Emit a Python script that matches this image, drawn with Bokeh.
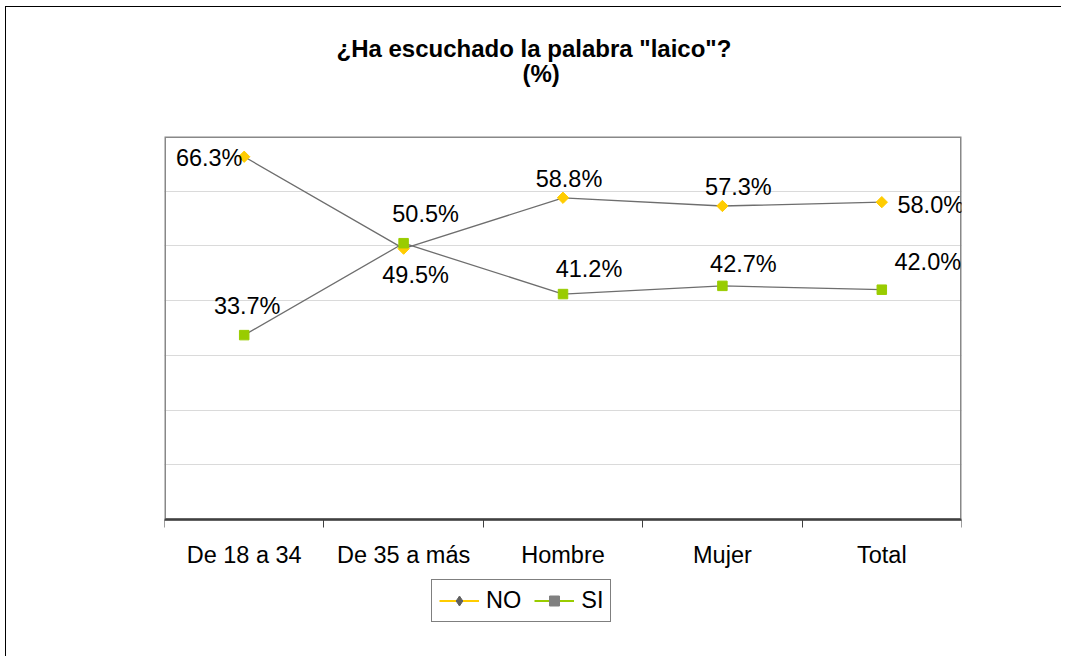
import numpy as np
from bokeh.plotting import figure
from bokeh.models import (ColumnDataSource, Range1d, FixedTicker, Legend, LegendItem, Title,
                          BoxAnnotation)
from bokeh.core.properties import value
from bokeh.embed import file_html
from bokeh.resources import INLINE

# ---- data ----
categories = ["De 18 a 34", "De 35 a más", "Hombre", "Mujer", "Total"]
no_values = [66.3, 49.5, 58.8, 57.3, 58.0]
si_values = [33.7, 50.5, 41.2, 42.7, 42.0]
title_lines = ['¿Ha escuchado la palabra "laico"?', "(%)"]
y_max = 70
grid_ticks = [10, 20, 30, 40, 50, 60]

# label placement (screen px offsets from each point)
no_dx = [-35, 12, 6, 16, 49]
no_dy = [1, 26, -19, -19, 3]
si_dx = [3, 22, 26, 21, 46]
si_dy = [-29, -29, -25, -22, -28]

FONT = "Liberation Sans"
YELLOW = "#FFCC00"
GREEN = "#99CC00"
LINE = "#6E6E6E"

xs = list(range(len(categories)))

# layout geometry (pixels): plot box 383 px tall for 0..70, frame extends 121 px lower
PLOT_H = 383
EXTRA = 121
y_start = -y_max * EXTRA / PLOT_H

p = figure(width=1056, height=650, output_backend="svg", toolbar_location=None,
           x_range=Range1d(-0.5, len(categories) - 0.5), y_range=Range1d(y_start, y_max),
           min_border_left=158, min_border_right=101, min_border_top=129,
           min_border_bottom=17)
p.styles = {"margin-left": "5px", "margin-top": "6px",
            "border-top": "1px solid #000000", "border-left": "1px solid #000000"}
p.background_fill_color = "white"
p.border_fill_color = "white"
p.outline_line_color = None

# plot-area box (edges sit on the frame edge, so half of the stroke is visible)
p.add_layout(BoxAnnotation(left=-0.5, right=len(categories) - 0.5, bottom=0, top=y_max,
                           fill_alpha=0, line_color="#888888", line_alpha=1, line_width=3,
                           level="underlay"))

# grid
p.xgrid.visible = False
p.ygrid.ticker = FixedTicker(ticks=grid_ticks)
p.ygrid.grid_line_color = "#B4B4B4"
p.ygrid.grid_line_dash = "1 1"
p.ygrid.grid_line_width = 1

p.yaxis.visible = False

ax = p.xaxis[0]
ax.fixed_location = 0
ax.ticker = FixedTicker(ticks=xs, minor_ticks=[i - 0.5 for i in range(len(categories) + 1)])
ax.major_label_overrides = {i: c for i, c in enumerate(categories)}
ax.major_tick_line_color = None
ax.major_tick_out = 0
ax.major_tick_in = 0
ax.minor_tick_out = 8
ax.minor_tick_in = 0
ax.minor_tick_line_color = "#404040"
ax.axis_line_color = "#404040"
ax.axis_line_width = 2
ax.major_label_text_font = FONT
ax.major_label_text_font_size = "23.5px"
ax.major_label_text_color = "#000000"
ax.major_label_standoff = 14

src_no = ColumnDataSource(dict(x=xs, y=no_values, t=[f"{v:.1f}%" for v in no_values], dx=no_dx, dy=no_dy))
src_si = ColumnDataSource(dict(x=xs, y=si_values, t=[f"{v:.1f}%" for v in si_values], dx=si_dx, dy=si_dy))

p.line("x", "y", source=src_no, line_color=LINE, line_width=1.3)
p.scatter("x", "y", source=src_no, marker="square", angle=np.pi / 4, size=8,
          fill_color=YELLOW, line_color=YELLOW)
p.line("x", "y", source=src_si, line_color=LINE, line_width=1.3)
p.scatter("x", "y", source=src_si, marker="square", size=9.5,
          fill_color=GREEN, line_color=GREEN)

for src in (src_no, src_si):
    p.text("x", "y", text="t", source=src, x_offset="dx", y_offset="dy",
           text_align="center", text_baseline="middle",
           text_font=value(FONT), text_font_size="23.5px", text_color="#000000")

# legend swatches (hidden renderers on the same data, shown only in the legend)
l_no = p.line("x", "y", source=src_no, line_color=YELLOW, line_width=2, visible=False)
m_no = p.scatter("x", "y", source=src_no, marker="diamond", size=13,
                 fill_color="#606060", line_color="#606060", visible=False)
l_si = p.line("x", "y", source=src_si, line_color=GREEN, line_width=2, visible=False)
m_si = p.scatter("x", "y", source=src_si, marker="square", size=9,
                 fill_color="#808080", line_color="#808080", visible=False)

legend = Legend(items=[LegendItem(label="NO", renderers=[l_no, m_no]),
                       LegendItem(label="SI", renderers=[l_si, m_si])],
                orientation="horizontal", location=(267, 18), click_policy="none",
                glyph_width=40, glyph_height=25, label_standoff=7, spacing=13,
                padding=7, margin=0,
                label_text_font=FONT, label_text_font_size="23.5px",
                label_text_color="#000000",
                border_line_color="#000000", border_line_width=1,
                background_fill_color="white", background_fill_alpha=1)
p.add_layout(legend, "center")

# title: spacer (innermost), "(%)", then the question (outermost)
spacer = Title(text=" ", text_font_size="10px", standoff=38, align="left")
t2 = Title(text=title_lines[1], align="left", offset=358, standoff=-4,
           vertical_align="middle", text_font=FONT, text_font_size="24px",
           text_font_style="bold", text_color="#000000")
t1 = Title(text=title_lines[0], align="left", offset=172, standoff=-4,
           vertical_align="middle", text_font=FONT, text_font_size="24px",
           text_font_style="bold", text_color="#000000")
p.add_layout(spacer, "above")
p.add_layout(t2, "above")
p.add_layout(t1, "above")

open("out.html", "w").write(file_html(p, INLINE))
